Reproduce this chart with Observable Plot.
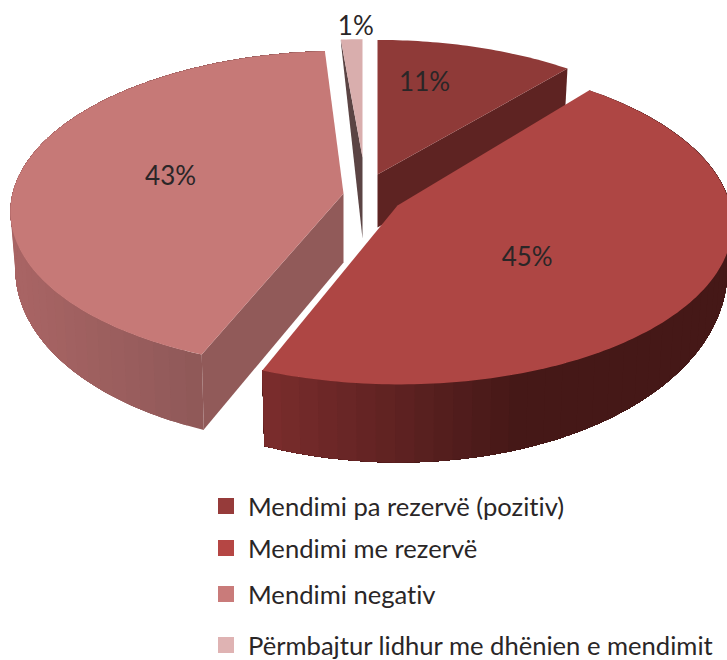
<!DOCTYPE html>
<html lang="sq">
<head>
<meta charset="utf-8">
<script src="https://cdn.jsdelivr.net/npm/d3@7"></script>
<script src="https://cdn.jsdelivr.net/npm/@observablehq/plot@0.6"></script>
<style>
  html, body { margin: 0; padding: 0; background: #fff; overflow: hidden; }
  #chart svg { display: block; }
  #legend { padding-left: 218px; font: 25.6px Lato, sans-serif; font-variant-ligatures: none; color: #2a2627; }
  #legend .row { display: flex; align-items: center; height: 30px; white-space: nowrap; }
  #legend .row:nth-child(1) { margin-top: 11px; }
  #legend .row:nth-child(2) { margin-top: 12px; }
  #legend .row:nth-child(3) { margin-top: 16px; }
  #legend .row:nth-child(4) { margin-top: 21px; }
  #legend .sw { width: 16px; height: 16px; margin-right: 14px; flex: none; }
</style>
</head>
<body>
<div id="chart"></div>
<div id="legend"></div>
<script>
// ---- data ----
const categories = ["Mendimi pa rezervë (pozitiv)", "Mendimi me rezervë", "Mendimi negativ", "Përmbajtur lidhur me dhënien e mendimit"];
const values = [11, 45, 43, 1];
const faceColors = ["#8f3a38", "#ae4644", "#c67977", "#d9aead"];
const legendColors = ["#963b3a", "#b54644", "#c97b7a", "#dfb3b3"];

// ---- 3D pie layout (exploded slices, seen in perspective) ----
const perspective = 0.1;
const wallLean = 0.015;
const layouts = [
  {ax: 377, ay: 174, rx: 321, ry: 148, sk: [0, 0], edge: "end",   apexD: 53, rimD: 52, edgeColor: "#5e2322", labelT: 13.3,  labelR: 0.68},
  {ax: 397, ay: 205, rx: 336, ry: 161, sk: [-3.3, -4.8], wall: [42, -36], wallColors: ["#7b2d2d", "#451817"], wallX: [262, 520], labelT: 129.8, labelR: 0.49},
  {ax: 343, ay: 193, rx: 326, ry: 157, sk: [-4.9, 4.9], edge: "start", apexD: 69, rimD: 75, edgeColor: "#915a59", wall: [55, -22], wallColors: ["#a86464", "#8f5958"], wallX: [20, 203], labelT: 281.6, labelR: 0.54},
  {ax: 362, ay: 157, rx: 380, ry: 130, sk: [0, 0], edge: "start", apexD: 81, rimD: 5, edgeColor: "#5b4444", labelT: 359, labelR: 1.12}
];
const drawOrder = [0, 3, 2, 1];

// angles from the values
const total = d3.sum(values);
const ends = d3.cumsum(values).map(v => v / total * 360);
const starts = ends.map((e, i) => e - values[i] / total * 360);
const rad = d => d * Math.PI / 180;

function project(L, t, r = 1) {
  const u = r * Math.sin(rad(t)), v = r * Math.cos(rad(t));
  const s = 1 / (1 + perspective * v);
  return {x: L.ax + L.rx * u * s + r * (L.sk[0] + L.sk[1] * v), y: L.ay - L.ry * v * s, v};
}
function drop(L, p, d) {
  return {x: p.x + (L.ax - p.x) * wallLean, y: p.y + d};
}

const polys = [];
let id = 0;
function addPoly(points, fill) {
  id++;
  for (const p of points) polys.push({id, x: p.x, y: p.y, fill});
}

for (const i of drawOrder) {
  const L = layouts[i], t0 = starts[i], t1 = ends[i];
  const steps = Math.max(4, Math.round(t1 - t0));
  const ts = d3.range(steps + 1).map(k => t0 + (t1 - t0) * k / steps);
  // radial inner wall
  if (L.edge) {
    const rim = project(L, L.edge === "end" ? t1 : t0);
    const apex = {x: L.ax, y: L.ay};
    addPoly([apex, rim, drop(L, rim, L.rimD), drop(L, apex, L.apexD)], L.edgeColor);
  }
  // curved outer wall: each band is the whole remaining wall, painted over the last, so no seams show
  if (L.wall) {
    const shade = d3.scaleLinear().domain(L.wallX).range(L.wallColors).interpolate(d3.interpolateRgb).clamp(true);
    const rimPts = ts.map(t => project(L, t));
    const botPts = rimPts.map(p => drop(L, p, L.wall[0] + L.wall[1] * p.v));
    for (const k of d3.range(0, steps, 3)) {
      const top = rimPts.slice(k), bot = botPts.slice(k).reverse();
      addPoly([...top, ...bot], shade(rimPts[Math.min(k + 1, steps)].x));
    }
  }
  // top face
  addPoly([{x: L.ax, y: L.ay}, ...ts.map(t => project(L, t))], faceColors[i]);
}

const labels = values.map((v, i) => {
  const L = layouts[i], p = project(L, L.labelT, L.labelR);
  return {x: p.x, y: p.y, text: `${v}%`};
});

const plot = Plot.plot({
  width: 727,
  height: 480,
  margin: 0,
  x: {domain: [0, 727], axis: null},
  y: {domain: [480, 0], axis: null},
  color: {type: "identity"},
  style: {background: "#fff"},
  marks: [
    Plot.line(polys, {x: "x", y: "y", z: "id", fill: "fill", stroke: "none", clip: true}),
    Plot.text(labels, {x: "x", y: "y", text: "text", fontSize: 26, fontFamily: "Lato, sans-serif", fill: "#2a2627"})
  ]
});
document.getElementById("chart").append(plot);

const legend = document.getElementById("legend");
categories.forEach((c, i) => {
  const row = document.createElement("div");
  row.className = "row";
  const sw = document.createElement("span");
  sw.className = "sw";
  sw.style.background = legendColors[i];
  const tx = document.createElement("span");
  tx.textContent = c;
  row.append(sw, tx);
  legend.append(row);
});
</script>
</body>
</html>
